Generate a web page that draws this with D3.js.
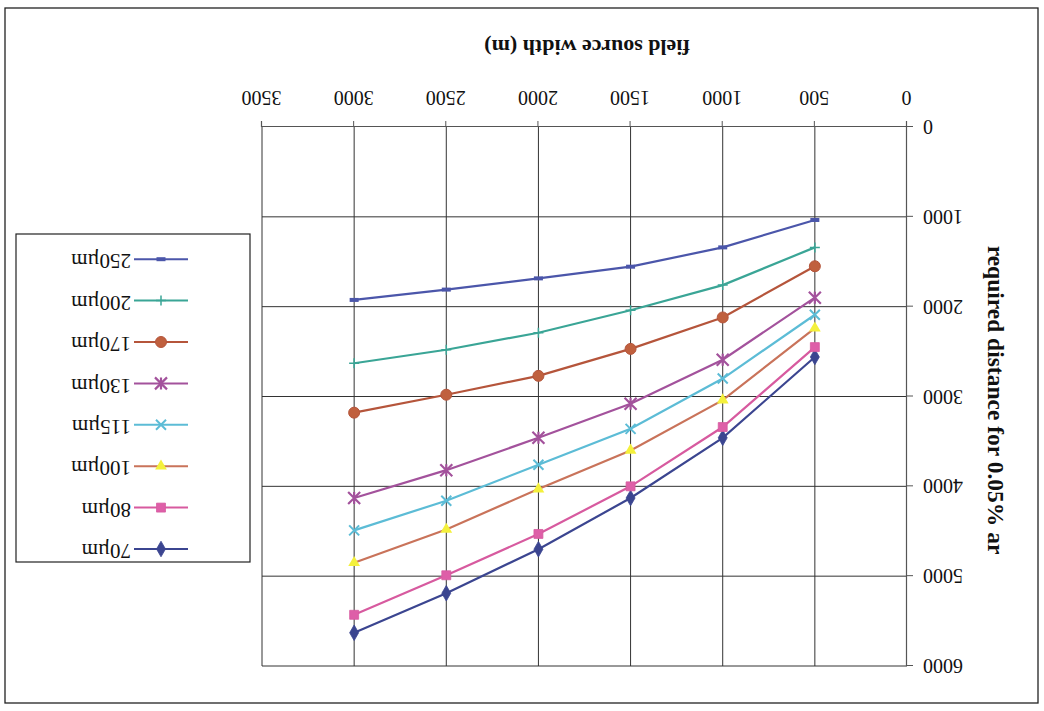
<!DOCTYPE html>
<html><head><meta charset="utf-8">
<script src="https://cdn.jsdelivr.net/npm/d3@7"></script>
<style>body{margin:0;background:#fff}svg{display:block}text{font-family:"Liberation Serif","Times New Roman",serif;fill:#111}</style>
</head><body>
<svg id="c" width="1044" height="711"></svg>
<script>
const xValues = [500, 1000, 1500, 2000, 2500, 3000];
const seriesNames = ["70µm","80µm","100µm","115µm","130µm","170µm","200µm","250µm"];
const s70  = [2560, 3460, 4130, 4700, 5190, 5630];
const s80  = [2450, 3340, 4000, 4530, 4990, 5430];
const s100 = [2240, 3040, 3600, 4030, 4480, 4850];
const s115 = [2090, 2800, 3360, 3760, 4160, 4490];
const s130 = [1900, 2590, 3080, 3460, 3820, 4130];
const s170 = [1550, 2120, 2470, 2770, 2980, 3180];
const s200 = [1340, 1760, 2040, 2290, 2480, 2630];
const s250 = [1035, 1340, 1555, 1685, 1810, 1925];
const xTicks = [0, 500, 1000, 1500, 2000, 2500, 3000, 3500];
const yTicks = [0, 1000, 2000, 3000, 4000, 5000, 6000];

const seriesValues = [s70, s80, s100, s115, s130, s170, s200, s250];
const lineColors = ["#3b4590","#d75a9f","#c9735a","#5cbcd6","#a3529c","#b5553b","#3aa596","#4b56aa"];
const markerFill = ["#3b4590","#de5fa8","#f4f03c","#5cbcd6","#a3529c","#c0603e","#3aa596","#4b56aa"];
const markerType = ["diamond","square","triangle","x","star","circle","plus","dash"];

const svg = d3.select("#c");
const root = svg.append("g").attr("transform","rotate(180,522,355.5)");

// outer frame
root.append("rect").attr("x",6).attr("y",8).attr("width",1033).attr("height",695)
  .attr("fill","none").attr("stroke","#222").attr("stroke-width",1.3);

const x = d3.scaleLinear().domain([0,3500]).range([137,782]);
const y = d3.scaleLinear().domain([0,6000]).range([584,45]);

// gridlines
root.append("g").selectAll("line").data(yTicks.slice(1)).join("line")
  .attr("x1",x(0)).attr("x2",x(3500)).attr("y1",d=>y(d)).attr("y2",d=>y(d))
  .attr("stroke","#333").attr("stroke-width",1);
root.append("g").selectAll("line").data(xTicks.slice(1)).join("line")
  .attr("y1",y(0)).attr("y2",y(6000)).attr("x1",d=>x(d)).attr("x2",d=>x(d))
  .attr("stroke","#333").attr("stroke-width",1);

// axes
const xAxis = d3.axisBottom(x).tickValues(xTicks).tickSize(6).tickPadding(16).tickFormat(d3.format("d"));
const gx = root.append("g").attr("transform",`translate(0,${y(0)})`).call(xAxis);
const yAxis = d3.axisLeft(y).tickValues(yTicks).tickSize(6).tickPadding(10).tickFormat(d3.format("d"));
const gy = root.append("g").attr("transform",`translate(${x(0)},0)`).call(yAxis);
[gx,gy].forEach(g=>{
  g.select(".domain").attr("stroke","#555").attr("stroke-width",1.2);
  g.selectAll(".tick line").attr("stroke","#555");
  g.selectAll("text").style("font-family","'Liberation Serif',serif").style("font-size","20px").attr("fill","#111");
});

// axis titles
root.append("text").attr("x",457).attr("y",671).attr("text-anchor","middle")
  .style("font-size","22px").style("font-weight","bold").text("field source width (m)");
root.append("text").attr("transform","translate(51,311) rotate(-90)").attr("text-anchor","middle")
  .attr("dominant-baseline","middle")
  .style("font-size","23.5px").style("font-weight","bold").text("required distance for 0.05% ar");

function drawMarker(g, type, cx, cy, fill, stroke, scale){
  const k = scale||1;
  if(type==="diamond"){
    g.append("path").attr("d",d3.symbol(d3.symbolDiamond,70*k)()).attr("transform",`translate(${cx},${cy})`).attr("fill",fill).attr("stroke",stroke).attr("stroke-width",0.8);
  } else if(type==="square"){
    g.append("path").attr("d",d3.symbol(d3.symbolSquare,80*k)()).attr("transform",`translate(${cx},${cy})`).attr("fill",fill).attr("stroke",stroke).attr("stroke-width",0.8);
  } else if(type==="triangle"){
    g.append("path").attr("d",d3.symbol(d3.symbolTriangle,60*k)()).attr("transform",`translate(${cx},${cy}) rotate(180)`).attr("fill",fill).attr("stroke","none");
  } else if(type==="circle"){
    g.append("circle").attr("cx",cx).attr("cy",cy).attr("r",5.5*Math.sqrt(k)).attr("fill",fill).attr("stroke",stroke).attr("stroke-width",1);
  } else if(type==="x"){
    const r=5;
    g.append("path").attr("d",`M${cx-r},${cy-r}L${cx+r},${cy+r}M${cx-r},${cy+r}L${cx+r},${cy-r}`).attr("stroke",stroke).attr("stroke-width",2);
  } else if(type==="star"){
    const r=6;
    g.append("path").attr("d",`M${cx-r},${cy-r}L${cx+r},${cy+r}M${cx-r},${cy+r}L${cx+r},${cy-r}M${cx},${cy-r}L${cx},${cy+r}`).attr("stroke",stroke).attr("stroke-width",2.2);
  } else if(type==="plus"){
    const r=5;
    g.append("path").attr("d",`M${cx-r},${cy}L${cx+r},${cy}M${cx},${cy-r}L${cx},${cy+r}`).attr("stroke",stroke).attr("stroke-width",1.5);
  } else if(type==="dash"){
    g.append("rect").attr("x",cx-4.5).attr("y",cy-2).attr("width",9).attr("height",4).attr("fill",fill);
  }
}

const line = d3.line().x((d,i)=>x(xValues[i])).y(d=>y(d));
const plot = root.append("g");
seriesValues.forEach((vals,si)=>{
  plot.append("path").datum(vals).attr("d",line).attr("fill","none")
    .attr("stroke",lineColors[si]).attr("stroke-width",2.2);
});
seriesValues.forEach((vals,si)=>{
  vals.forEach((v,i)=>drawMarker(plot, markerType[si], x(xValues[i]), y(v), markerFill[si], lineColors[si]));
});

// legend
const leg = root.append("g");
leg.append("rect").attr("x",794).attr("y",149).attr("width",234).attr("height",328)
  .attr("fill","#fff").attr("stroke","#222").attr("stroke-width",1.2);
seriesNames.forEach((name,si)=>{
  const ly = 162 + si*41.4;
  leg.append("line").attr("x1",856).attr("x2",910).attr("y1",ly).attr("y2",ly).attr("stroke",lineColors[si]).attr("stroke-width",2);
  drawMarker(leg, markerType[si], 883, ly, markerFill[si], lineColors[si]);
  leg.append("text").attr("x",913).attr("y",ly).attr("dominant-baseline","middle")
    .style("font-size","21px").text(name);
});
</script>
</body></html>
